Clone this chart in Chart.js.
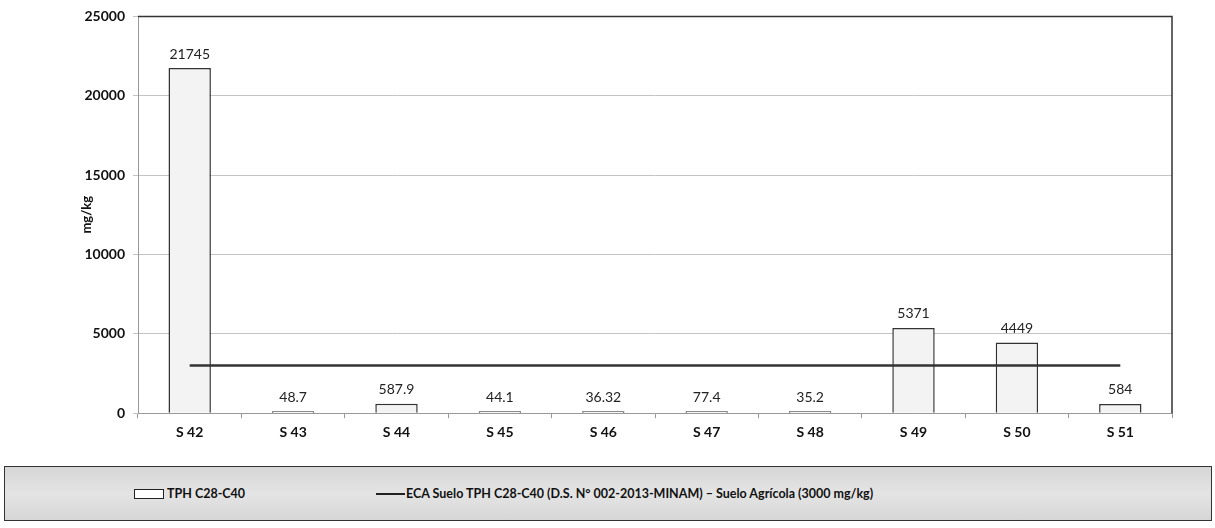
<!DOCTYPE html>
<html>
<head>
<meta charset="utf-8">
<script src="https://cdn.jsdelivr.net/npm/chart.js@4/dist/chart.umd.min.js"></script>
<style>
  body { margin: 0; background: #fff; font-family: Lato, "Open Sans", sans-serif; }
  #wrap { position: relative; width: 1215px; height: 528px; }
  #chart-box { position: absolute; left: 0; top: 0; width: 1215px; height: 447px; }
  #legend {
    position: absolute; left: 4px; top: 466px; width: 1206px; height: 53px;
    border: 1px solid #333; background: linear-gradient(#d6d6d6, #e4e4e4 50%, #d6d6d6);
    font: bold 12.5px Lato, sans-serif; color: #111;
  }
  .item { position: absolute; top: 19px; display: flex; align-items: center; }
  .sw-bar { width: 28px; height: 8px; border: 1px solid #222; background: #fff; margin-right: 3px; }
  .sw-line { width: 29px; height: 2px; background: #222; margin-right: 1px; }
</style>
</head>
<body>
<div id="wrap">
  <div id="chart-box"><canvas id="tphChart"></canvas></div>
  <div id="legend"></div>
</div>
<script>
const categories = ['S 42', 'S 43', 'S 44', 'S 45', 'S 46', 'S 47', 'S 48', 'S 49', 'S 50', 'S 51'];
const tphValues = [21745, 48.7, 587.9, 44.1, 36.32, 77.4, 35.2, 5371, 4449, 584];
const tphLabels = ['21745', '48.7', '587.9', '44.1', '36.32', '77.4', '35.2', '5371', '4449', '584'];
const ecaLimit = [3000, 3000, 3000, 3000, 3000, 3000, 3000, 3000, 3000, 3000];
const seriesNames = ['TPH C28-C40', 'ECA Suelo TPH C28-C40 (D.S. N° 002-2013-MINAM) – Suelo Agrícola (3000 mg/kg)'];

// value labels above the bars
const barLabels = {
  id: 'barLabels',
  afterDatasetsDraw(chart) {
    const ctx = chart.ctx;
    const meta = chart.getDatasetMeta(1);
    ctx.save();
    ctx.font = '14px Lato, sans-serif';
    ctx.fillStyle = '#222';
    ctx.textAlign = 'center';
    ctx.textBaseline = 'bottom';
    meta.data.forEach((bar, i) => {
      ctx.fillText(tphLabels[i], bar.x, bar.y - 7);
    });
    ctx.restore();
  }
};

// dark top and right frame of the plot area
const frame = {
  id: 'frame',
  afterDraw(chart) {
    const { ctx, chartArea: a } = chart;
    ctx.save();
    ctx.strokeStyle = '#333';
    ctx.lineWidth = 1.5;
    ctx.beginPath();
    ctx.moveTo(a.left, a.top);
    ctx.lineTo(a.right, a.top);
    ctx.lineTo(a.right, a.bottom);
    ctx.stroke();
    ctx.restore();
  }
};

const tickFont = { family: 'Lato', size: 14, weight: 'bold' };

const ctx = document.getElementById('tphChart').getContext('2d');
new Chart(ctx, {
  data: {
    labels: categories,
    datasets: [
      {
        type: 'line',
        label: seriesNames[1],
        data: ecaLimit,
        borderColor: '#333',
        borderWidth: 2.5,
        pointRadius: 0,
        order: 0
      },
      {
        type: 'bar',
        label: seriesNames[0],
        data: tphValues,
        backgroundColor: '#f3f3f3',
        borderColor: '#333',
        borderWidth: 1.5,
        minBarLength: 2,
        barPercentage: 0.41,
        categoryPercentage: 1,
        order: 1
      }
    ]
  },
  options: {
    responsive: true,
    maintainAspectRatio: false,
    animation: false,
    layout: { padding: { top: 16, right: 43, bottom: 0, left: 0 } },
    plugins: {
      legend: { display: false },
      tooltip: { enabled: false }
    },
    scales: {
      x: {
        offset: true,
        grid: { offset: true, drawOnChartArea: false, tickLength: 5, color: '#999' },
        border: { color: '#999' },
        ticks: { padding: 6, color: '#111', font: tickFont }
      },
      y: {
        min: 0,
        max: 25000,
        afterFit: scale => { scale.width = 138; },
        ticks: { stepSize: 5000, padding: 8, color: '#111', font: tickFont, callback: v => String(v) },
        grid: { color: '#c4c4c4', tickLength: 5 },
        border: { color: '#999' },
        title: {
          display: true,
          text: 'mg/kg',
          color: '#111',
          padding: { top: 79, bottom: 0 },
          font: { family: 'Lato', size: 13, weight: 'bold' }
        }
      }
    }
  },
  plugins: [barLabels, frame]
});

// legend built from the series names
const legend = document.getElementById('legend');
legend.innerHTML =
  '<div class="item" style="left:129px"><span class="sw-bar"></span>' + seriesNames[0] + '</div>' +
  '<div class="item" style="left:371px"><span class="sw-line"></span>' + seriesNames[1] + '</div>';
</script>
</body>
</html>
